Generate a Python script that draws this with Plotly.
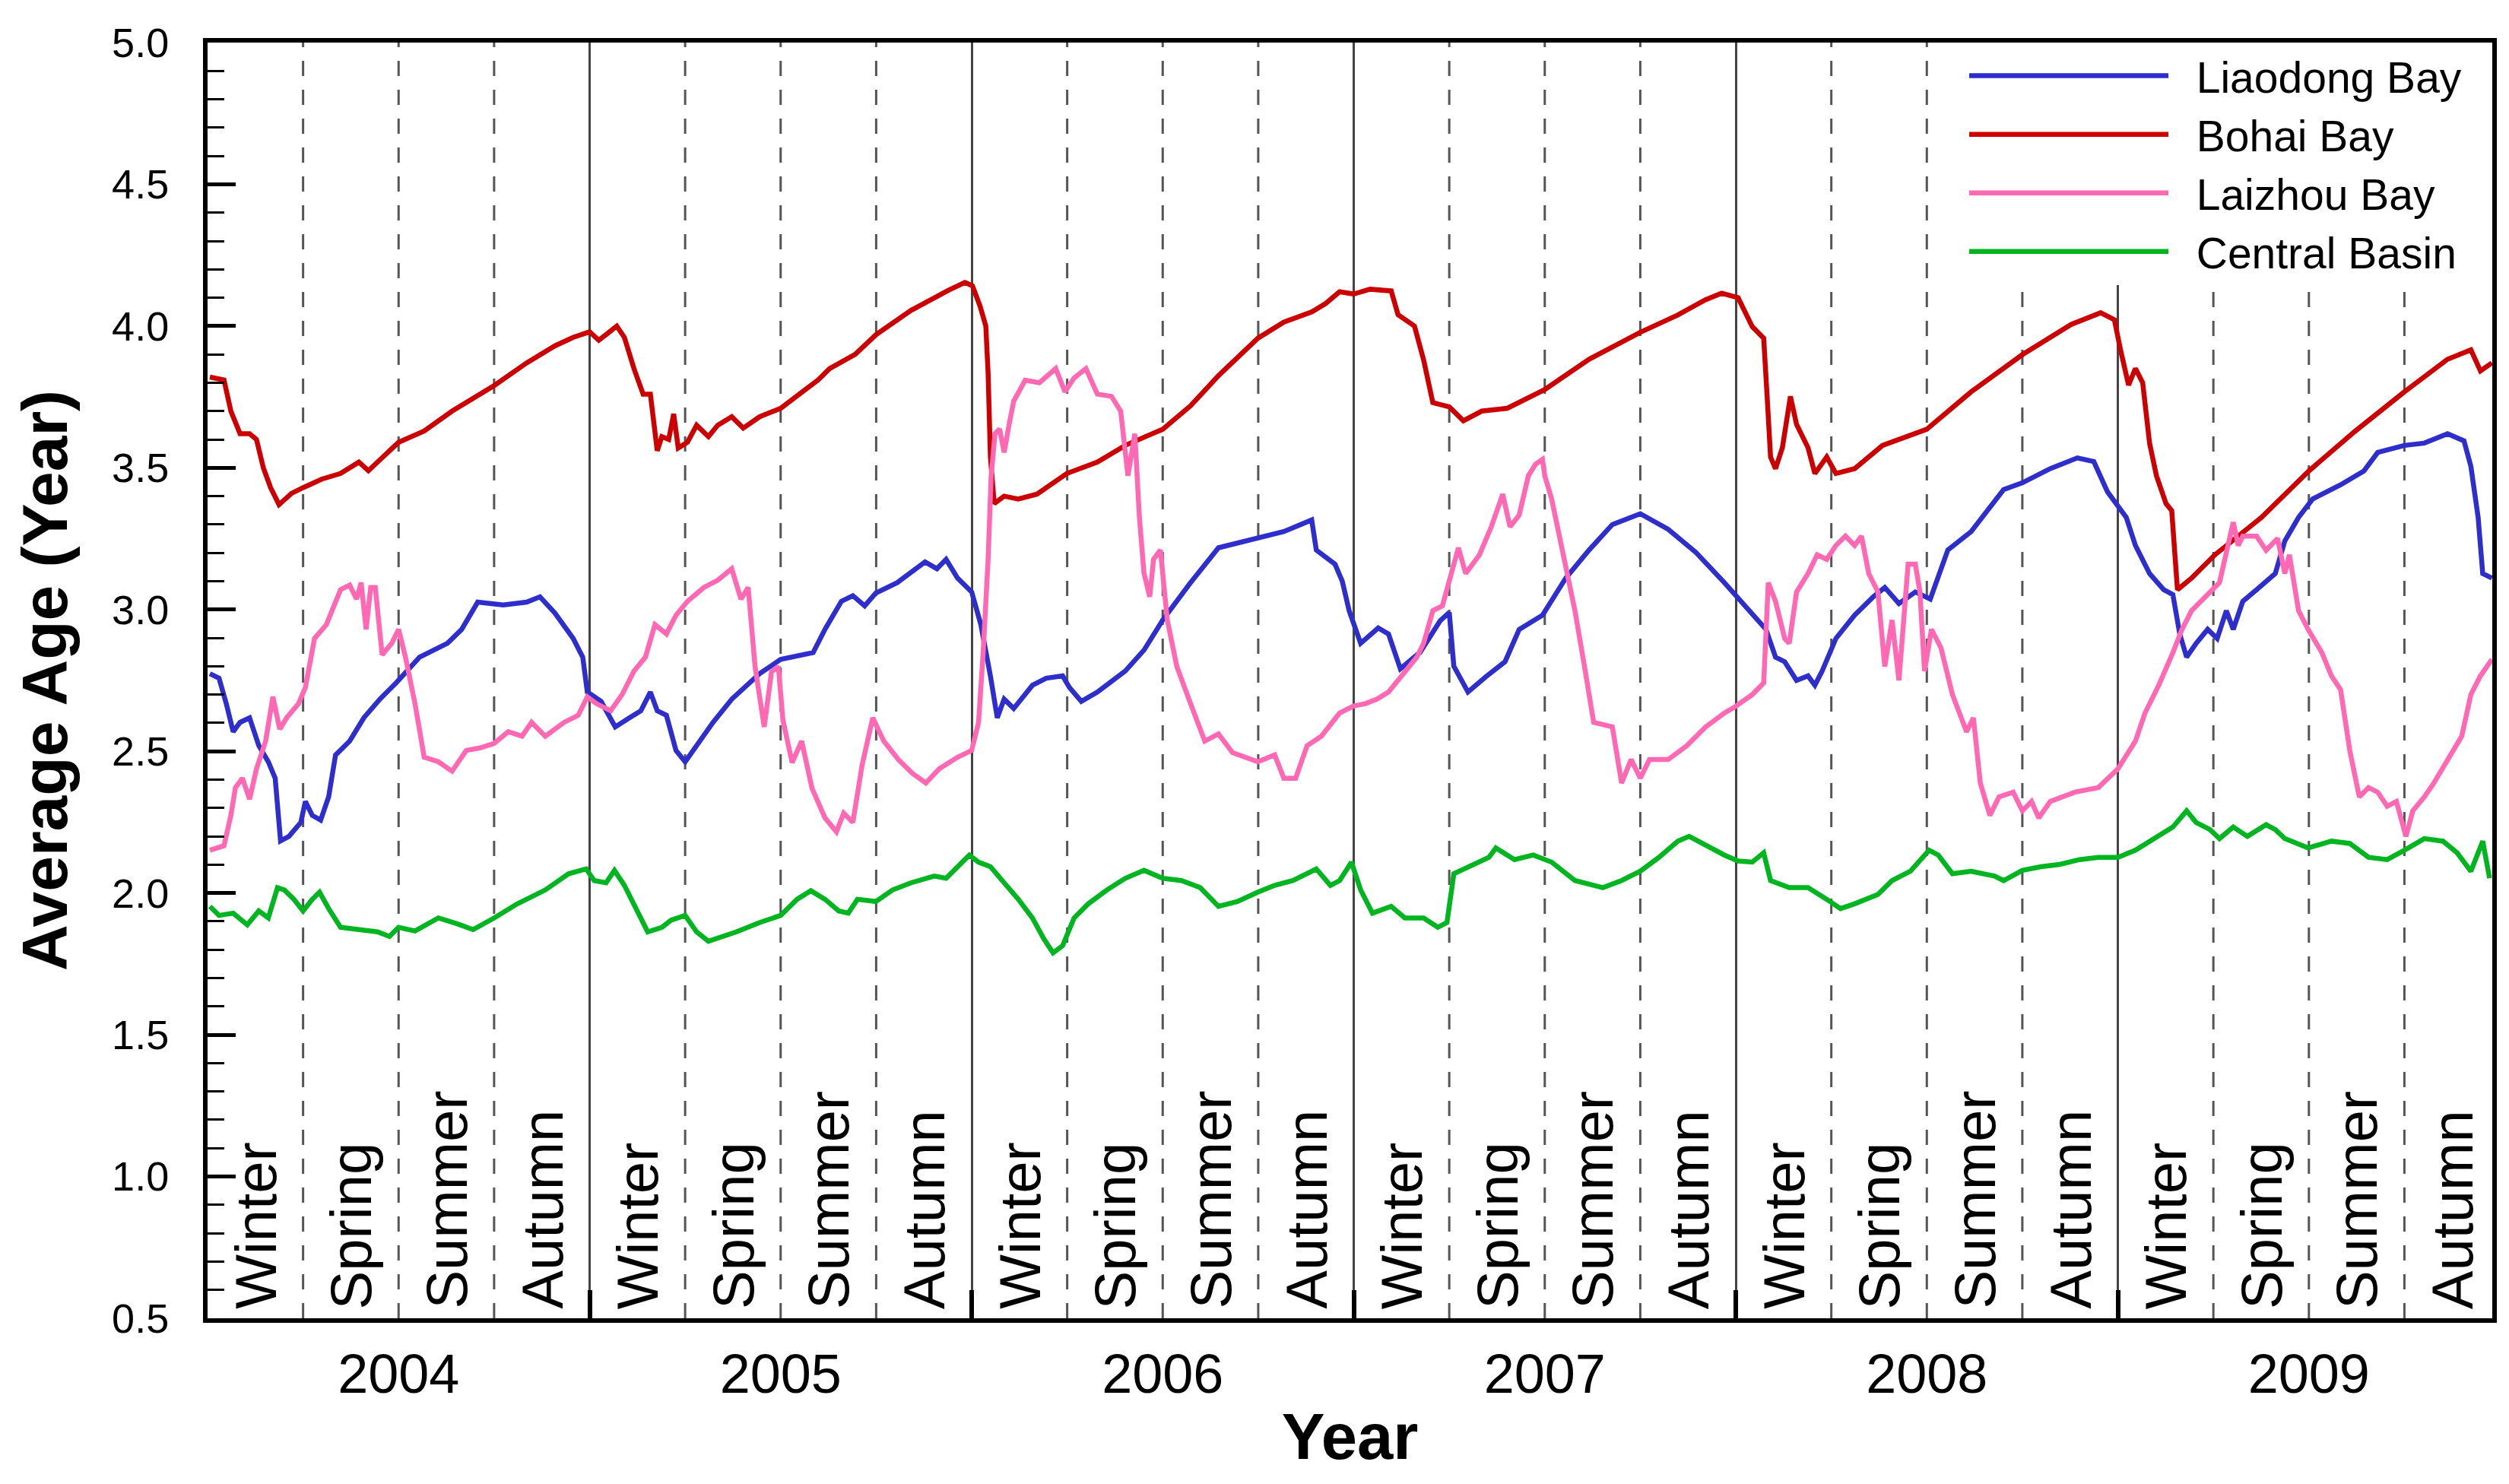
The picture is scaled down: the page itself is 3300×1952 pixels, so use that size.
import plotly.graph_objects as go

# ---------------- data (decimal year, average age in years) ----------------
bohai_t = [2004.006,2004.043,2004.061,2004.085,2004.110,2004.128,2004.146,2004.165,2004.187,2004.220,2004.250,2004.299,2004.348,2004.396,2004.421,2004.445,2004.500,2004.567,2004.640,2004.750,2004.835,2004.909,2004.957,
           2005.000,2005.024,2005.043,2005.071,2005.091,2005.116,2005.140,2005.159,2005.177,2005.189,2005.207,2005.220,2005.232,2005.256,2005.280,2005.311,2005.335,2005.372,2005.402,2005.445,2005.500,2005.567,2005.598,2005.628,2005.695,2005.750,2005.841,2005.939,2005.982,
           2006.002,2006.022,2006.037,2006.043,2006.049,2006.059,2006.085,2006.122,2006.171,2006.207,2006.249,2006.329,2006.402,2006.500,2006.573,2006.646,2006.749,2006.817,2006.890,2006.927,2006.963,
           2007.000,2007.043,2007.098,2007.116,2007.159,2007.183,2007.207,2007.250,2007.287,2007.335,2007.402,2007.500,2007.616,2007.750,2007.848,2007.921,2007.963,
           2008.006,2008.043,2008.073,2008.082,2008.091,2008.104,2008.122,2008.143,2008.159,2008.189,2008.207,2008.238,2008.262,2008.311,2008.384,2008.500,2008.616,2008.750,2008.878,2008.955,2008.991,
           2009.007,2009.028,2009.046,2009.065,2009.083,2009.101,2009.126,2009.141,2009.156,2009.193,2009.254,2009.376,2009.500,2009.620,2009.750,2009.863,2009.924,2009.949,2009.979]
bohai_v = [3.82,3.81,3.70,3.62,3.62,3.60,3.50,3.43,3.37,3.41,3.43,3.46,3.48,3.52,3.49,3.52,3.59,3.63,3.70,3.79,3.87,3.93,3.96,
           3.98,3.95,3.97,4.00,3.96,3.85,3.76,3.76,3.56,3.61,3.60,3.69,3.57,3.59,3.65,3.61,3.65,3.68,3.64,3.68,3.71,3.78,3.81,3.85,3.90,3.97,4.055,4.126,4.154,
           4.142,4.07,4.00,3.834,3.538,3.374,3.40,3.39,3.407,3.44,3.48,3.52,3.579,3.636,3.719,3.825,3.957,4.014,4.05,4.08,4.121,
           4.113,4.13,4.124,4.04,4.00,3.88,3.73,3.715,3.666,3.70,3.71,3.776,3.883,3.978,4.039,4.093,4.116,
           4.10,3.998,3.957,3.752,3.538,3.497,3.571,3.752,3.653,3.571,3.48,3.538,3.48,3.497,3.579,3.636,3.768,3.899,4.006,4.047,4.022,
           3.916,3.792,3.85,3.80,3.587,3.472,3.374,3.349,3.07,3.111,3.193,3.325,3.489,3.628,3.768,3.883,3.916,3.842,3.87]

liaodong_t = [2004.006,2004.030,2004.049,2004.067,2004.085,2004.110,2004.134,2004.159,2004.177,2004.191,2004.213,2004.244,2004.256,2004.274,2004.296,2004.317,2004.335,2004.372,2004.409,2004.451,2004.494,2004.555,2004.628,2004.665,2004.707,2004.774,2004.835,2004.870,2004.909,2004.957,2004.982,2004.994,
              2005.030,2005.067,2005.104,2005.134,2005.159,2005.177,2005.201,2005.226,2005.250,2005.280,2005.323,2005.372,2005.445,2005.500,2005.585,2005.616,2005.659,2005.689,2005.720,2005.749,2005.805,2005.878,2005.909,2005.933,2005.963,
              2006.000,2006.024,2006.049,2006.067,2006.085,2006.110,2006.159,2006.195,2006.238,2006.256,2006.287,2006.329,2006.402,2006.451,2006.500,2006.573,2006.646,2006.749,2006.817,2006.890,2006.902,2006.951,2006.970,2006.988,
              2007.018,2007.064,2007.091,2007.122,2007.174,2007.226,2007.250,2007.262,2007.299,2007.345,2007.396,2007.433,2007.494,2007.555,2007.616,2007.677,2007.750,2007.823,2007.896,2007.970,
              2008.030,2008.079,2008.104,2008.128,2008.159,2008.189,2008.207,2008.226,2008.262,2008.311,2008.360,2008.390,2008.427,2008.470,2008.509,2008.555,2008.616,2008.701,2008.750,2008.823,2008.894,2008.937,2008.973,
              2009.022,2009.046,2009.083,2009.120,2009.144,2009.162,2009.180,2009.205,2009.235,2009.260,2009.284,2009.302,2009.327,2009.363,2009.412,2009.437,2009.473,2009.510,2009.583,2009.644,2009.680,2009.750,2009.802,2009.863,2009.906,2009.924,2009.943,2009.955,2009.979]
liaodong_v = [2.774,2.758,2.668,2.569,2.602,2.618,2.52,2.463,2.405,2.184,2.20,2.249,2.323,2.274,2.257,2.34,2.487,2.536,2.618,2.684,2.742,2.832,2.881,2.93,3.026,3.016,3.026,3.045,2.988,2.898,2.832,2.709,
              2.676,2.586,2.618,2.643,2.709,2.643,2.627,2.503,2.463,2.52,2.602,2.684,2.774,2.824,2.848,2.93,3.029,3.049,3.013,3.058,3.095,3.168,3.144,3.177,3.111,
              3.062,2.947,2.766,2.618,2.684,2.651,2.733,2.758,2.766,2.725,2.676,2.709,2.783,2.857,2.963,3.095,3.218,3.251,3.275,3.316,3.21,3.16,3.10,2.996,
              2.881,2.935,2.914,2.791,2.85,2.96,2.99,2.80,2.709,2.762,2.816,2.93,2.98,3.111,3.21,3.30,3.338,3.283,3.201,3.095,
              3.004,2.93,2.832,2.816,2.75,2.766,2.733,2.783,2.898,2.98,3.045,3.078,3.021,3.062,3.037,3.21,3.275,3.423,3.447,3.497,3.535,3.522,3.415,
              3.325,3.226,3.127,3.07,3.053,2.914,2.832,2.881,2.93,2.898,2.996,2.93,3.029,3.07,3.127,3.242,3.325,3.39,3.44,3.489,3.554,3.579,3.587,3.62,3.595,3.505,3.325,3.127,3.111]

laizhou_t = [2004.006,2004.043,2004.061,2004.073,2004.091,2004.110,2004.128,2004.152,2004.171,2004.189,2004.207,2004.238,2004.256,2004.280,2004.311,2004.348,2004.372,2004.390,2004.402,2004.415,2004.427,2004.439,2004.457,2004.482,2004.500,2004.518,2004.543,2004.567,2004.604,2004.640,2004.677,2004.713,2004.750,2004.787,2004.823,2004.848,2004.884,2004.933,2004.970,2004.994,
             2005.018,2005.055,2005.085,2005.116,2005.146,2005.171,2005.201,2005.226,2005.256,2005.299,2005.335,2005.372,2005.396,2005.415,2005.433,2005.457,2005.476,2005.494,2005.506,2005.530,2005.555,2005.582,2005.616,2005.646,2005.665,2005.689,2005.713,2005.741,2005.770,2005.808,2005.845,2005.880,2005.915,2005.963,
             2006.000,2006.018,2006.030,2006.043,2006.051,2006.061,2006.073,2006.085,2006.098,2006.110,2006.140,2006.177,2006.220,2006.244,2006.268,2006.299,2006.329,2006.366,2006.390,2006.409,2006.427,2006.439,2006.451,2006.466,2006.476,2006.494,2006.512,2006.537,2006.573,2006.610,2006.646,2006.683,2006.749,2006.793,2006.817,2006.848,2006.878,2006.915,2006.963,
             2007.000,2007.030,2007.061,2007.091,2007.122,2007.165,2007.183,2007.207,2007.232,2007.256,2007.274,2007.293,2007.329,2007.360,2007.390,2007.409,2007.433,2007.457,2007.476,2007.494,2007.500,2007.518,2007.543,2007.579,2007.604,2007.628,2007.677,2007.701,2007.726,2007.750,2007.774,2007.823,2007.872,2007.921,2007.970,
             2008.000,2008.043,2008.073,2008.085,2008.104,2008.128,2008.140,2008.159,2008.189,2008.213,2008.238,2008.262,2008.287,2008.311,2008.329,2008.348,2008.372,2008.390,2008.409,2008.427,2008.451,2008.470,2008.482,2008.494,2008.512,2008.537,2008.567,2008.604,2008.622,2008.640,2008.665,2008.689,2008.726,2008.750,2008.774,2008.793,2008.823,2008.888,2008.949,
             2009.000,2009.046,2009.071,2009.107,2009.144,2009.168,2009.193,2009.229,2009.266,2009.302,2009.315,2009.327,2009.363,2009.388,2009.418,2009.437,2009.449,2009.473,2009.498,2009.534,2009.559,2009.583,2009.607,2009.632,2009.656,2009.680,2009.705,2009.729,2009.754,2009.772,2009.802,2009.827,2009.863,2009.900,2009.924,2009.949,2009.979]
laizhou_v = [2.151,2.167,2.274,2.372,2.405,2.331,2.438,2.536,2.692,2.578,2.618,2.668,2.725,2.898,2.947,3.07,3.086,3.037,3.095,2.93,3.078,3.078,2.84,2.881,2.93,2.832,2.668,2.479,2.463,2.43,2.503,2.512,2.528,2.569,2.553,2.602,2.553,2.602,2.627,2.692,
             2.668,2.643,2.70,2.783,2.832,2.947,2.914,2.98,3.029,3.078,3.103,3.144,3.037,3.078,2.799,2.586,2.78,2.799,2.61,2.46,2.536,2.37,2.265,2.216,2.282,2.249,2.45,2.618,2.536,2.471,2.422,2.388,2.438,2.479,
             2.503,2.602,2.848,3.177,3.472,3.62,3.637,3.554,3.653,3.735,3.809,3.80,3.85,3.768,3.817,3.85,3.76,3.752,3.70,3.472,3.62,3.325,3.128,3.045,3.177,3.21,2.963,2.799,2.668,2.536,2.561,2.495,2.463,2.487,2.405,2.405,2.52,2.553,2.635,
             2.66,2.668,2.684,2.709,2.758,2.832,2.881,2.996,3.013,3.13,3.218,3.127,3.193,3.292,3.407,3.292,3.333,3.472,3.513,3.530,3.472,3.39,3.226,2.996,2.799,2.602,2.586,2.388,2.471,2.405,2.471,2.471,2.52,2.586,2.635,
             2.659,2.70,2.741,3.095,3.029,2.898,2.881,3.062,3.127,3.193,3.177,3.226,3.259,3.226,3.259,3.127,3.062,2.799,2.963,2.75,3.16,3.16,3.062,2.783,2.93,2.865,2.70,2.569,2.618,2.388,2.274,2.339,2.356,2.29,2.323,2.265,2.323,2.356,2.372,
             2.438,2.536,2.635,2.733,2.848,2.93,2.996,3.045,3.095,3.308,3.226,3.259,3.259,3.209,3.251,3.127,3.193,2.996,2.93,2.848,2.766,2.717,2.503,2.339,2.372,2.356,2.306,2.323,2.20,2.29,2.339,2.388,2.471,2.553,2.70,2.766,2.824]

central_t = [2004.006,2004.030,2004.067,2004.104,2004.134,2004.159,2004.183,2004.201,2004.226,2004.250,2004.274,2004.293,2004.317,2004.348,2004.396,2004.445,2004.476,2004.500,2004.543,2004.604,2004.652,2004.695,2004.750,2004.811,2004.884,2004.945,2004.991,
             2005.012,2005.043,2005.065,2005.091,2005.122,2005.152,2005.189,2005.213,2005.250,2005.280,2005.311,2005.348,2005.384,2005.445,2005.500,2005.543,2005.579,2005.616,2005.652,2005.677,2005.701,2005.749,2005.793,2005.841,2005.902,2005.933,2005.963,2005.994,
             2006.018,2006.049,2006.085,2006.122,2006.159,2006.189,2006.213,2006.238,2006.268,2006.305,2006.354,2006.402,2006.451,2006.500,2006.549,2006.598,2006.646,2006.695,2006.749,2006.793,2006.841,2006.902,2006.939,2006.963,2006.994,
             2007.018,2007.049,2007.098,2007.134,2007.183,2007.220,2007.244,2007.262,2007.305,2007.354,2007.372,2007.421,2007.470,2007.518,2007.579,2007.652,2007.701,2007.750,2007.799,2007.848,2007.878,2007.921,2007.970,
             2008.006,2008.043,2008.073,2008.091,2008.140,2008.189,2008.238,2008.274,2008.311,2008.372,2008.409,2008.457,2008.506,2008.530,2008.567,2008.616,2008.677,2008.701,2008.750,2008.799,2008.848,2008.900,2008.949,
             2009.000,2009.046,2009.095,2009.144,2009.180,2009.205,2009.241,2009.266,2009.302,2009.339,2009.388,2009.412,2009.437,2009.498,2009.559,2009.607,2009.656,2009.705,2009.750,2009.802,2009.851,2009.888,2009.924,2009.937,2009.955,2009.973]
central_v = [1.953,1.921,1.929,1.888,1.937,1.912,2.019,2.011,1.978,1.937,1.978,2.003,1.945,1.879,1.871,1.863,1.847,1.879,1.866,1.912,1.892,1.871,1.912,1.962,2.011,2.068,2.085,
             2.044,2.036,2.08,2.027,1.945,1.863,1.879,1.904,1.921,1.863,1.83,1.847,1.863,1.896,1.921,1.978,2.008,1.978,1.937,1.929,1.978,1.97,2.011,2.036,2.06,2.052,2.093,2.134,
             2.109,2.093,2.036,1.978,1.912,1.838,1.789,1.814,1.912,1.962,2.011,2.052,2.08,2.052,2.044,2.019,1.953,1.97,2.003,2.027,2.044,2.085,2.027,2.044,2.109,
             2.011,1.929,1.953,1.912,1.912,1.879,1.896,2.068,2.093,2.126,2.159,2.118,2.134,2.109,2.044,2.019,2.044,2.077,2.126,2.183,2.20,2.167,2.134,
             2.113,2.109,2.142,2.044,2.019,2.019,1.978,1.945,1.962,1.995,2.044,2.077,2.151,2.134,2.068,2.077,2.06,2.044,2.08,2.093,2.101,2.118,2.126,
             2.126,2.151,2.192,2.233,2.29,2.249,2.224,2.192,2.233,2.20,2.241,2.224,2.192,2.159,2.183,2.175,2.126,2.118,2.151,2.192,2.183,2.142,2.077,2.126,2.183,2.052]

years = [2004, 2005, 2006, 2007, 2008, 2009]
year_labels = ["2004", "2005", "2006", "2007", "2008", "2009"]
seasons = ["Winter", "Spring", "Summer", "Autumn"]
y_ticks = [0.5, 1.0, 1.5, 2.0, 2.5, 3.0, 3.5, 4.0, 4.5, 5.0]
series_names = ["Liaodong Bay", "Bohai Bay", "Laizhou Bay", "Central Basin"]
series_colors = ["#2E2ECC", "#CC0000", "#FF69B4", "#00B520"]

FONT = "Liberation Sans, Arial, Helvetica, sans-serif"
X_END = 2009.98
GAP = "\u00a0\u00a0"

fig = go.Figure()
for name, t, v, col in zip(series_names,
                           [liaodong_t, bohai_t, laizhou_t, central_t],
                           [liaodong_v, bohai_v, laizhou_v, central_v],
                           series_colors):
    fig.add_trace(go.Scatter(x=t, y=v, mode="lines", name=GAP + name,
                             line=dict(color=col, width=6.5)))

# dashed season separators
shapes = []
for yr in years:
    for q in (0.25, 0.5, 0.75):
        shapes.append(dict(type="line", xref="x", yref="paper", x0=yr + q, x1=yr + q,
                           y0=0, y1=1, layer="below",
                           line=dict(color="#555555", width=3, dash="20px,18px")))

# season labels
annotations = []
for yr in years:
    for i, s in enumerate(seasons):
        annotations.append(dict(x=yr + 0.25 * i + 0.125, y=0, xref="x", yref="paper",
                                text=s, textangle=-90, showarrow=False,
                                xanchor="center", yanchor="bottom", yshift=10,
                                font=dict(family=FONT, size=76, color="black")))

fig.update_layout(
    width=3300, height=1952,
    margin=dict(l=265, r=30, t=48, b=226),
    paper_bgcolor="white", plot_bgcolor="white",
    shapes=shapes, annotations=annotations,
    font=dict(family=FONT, color="black"),
    showlegend=True,
    legend=dict(x=0.7694, y=1, xanchor="left", yanchor="top",
                bgcolor="white", borderwidth=0,
                font=dict(family=FONT, size=57, color="black"),
                itemwidth=262, tracegroupgap=0),
)

fig.update_xaxes(
    range=[2004, X_END],
    tickmode="array", tickvals=[y + 0.5 for y in years], ticktext=year_labels,
    ticks="", showgrid=False, zeroline=False,
    tickfont=dict(family=FONT, size=72, color="black"),
    ticklabelstandoff=6,
    showline=True, linecolor="black", linewidth=6, mirror=True,
    minor=dict(tickmode="array", tickvals=years[1:], ticks="inside",
               ticklen=37, tickwidth=6, tickcolor="black",
               showgrid=True, gridcolor="#444444", gridwidth=3),
    title=dict(text="<b>Year</b>", font=dict(family=FONT, size=85, color="black"), standoff=15),
)

fig.update_yaxes(
    range=[0.5, 5.0],
    tickmode="array", tickvals=y_ticks, ticktext=[f"{v:.1f}" for v in y_ticks],
    ticks="inside", ticklen=37, tickwidth=5, tickcolor="black",
    showgrid=False, zeroline=False,
    tickfont=dict(family=FONT, size=54, color="black"),
    ticklabelstandoff=34,
    showline=True, linecolor="black", linewidth=6, mirror=True,
    minor=dict(dtick=0.1, tick0=0.5, ticks="inside", ticklen=22, tickwidth=3,
               tickcolor="black", showgrid=False),
    title=dict(text="<b>Average Age (Year)</b>", font=dict(family=FONT, size=84, color="black"), standoff=33),
)

fig.write_html("out.html")
